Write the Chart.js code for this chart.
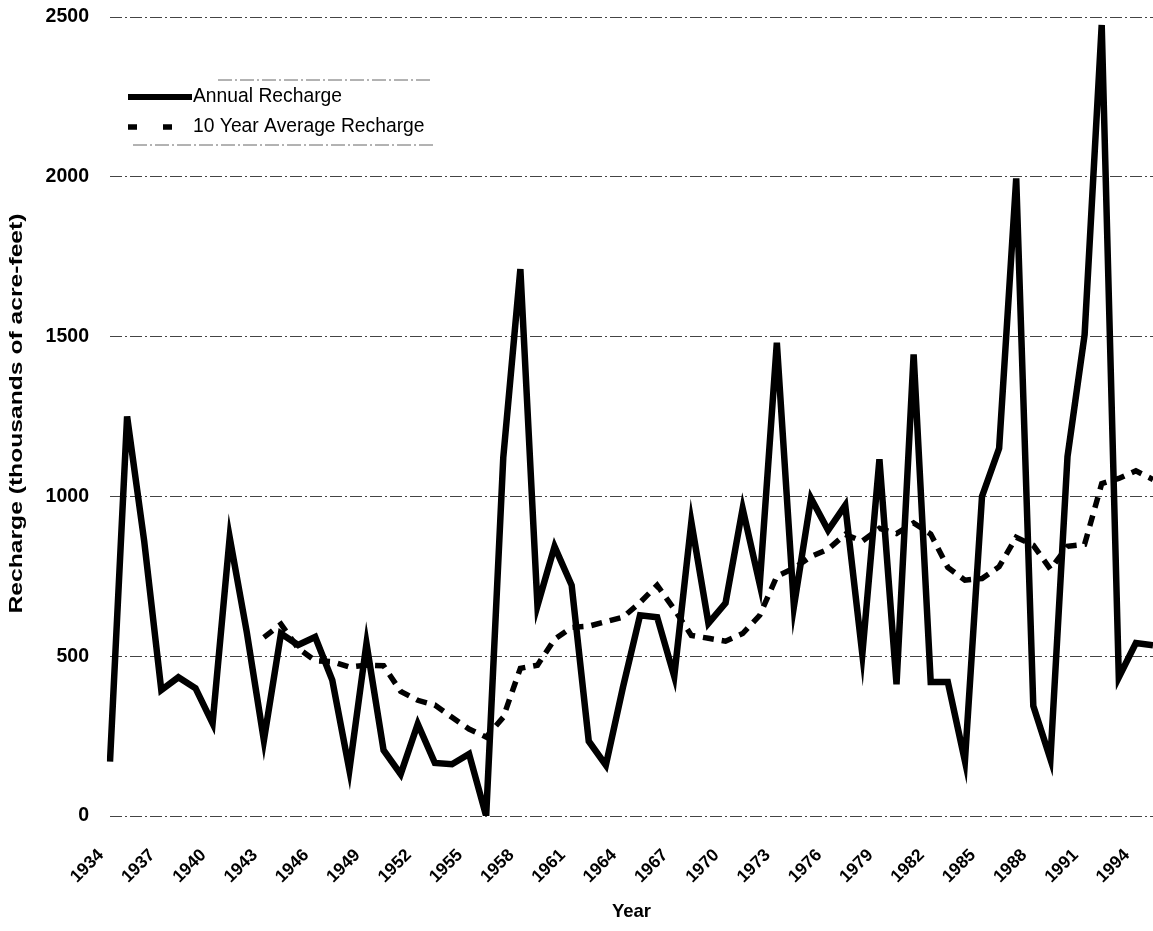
<!DOCTYPE html>
<html>
<head>
<meta charset="utf-8">
<script src="https://cdn.jsdelivr.net/npm/chart.js@4.4.1/dist/chart.umd.min.js"></script>
<style>
html,body{margin:0;padding:0;background:#ffffff;}
canvas{display:block;}
</style>
</head>
<body>
<canvas id="chart" width="1153" height="931"></canvas>
<script>
// ---- Data ----
const years = [
  '1934','1935','1936','1937','1938','1939','1940','1941','1942','1943',
  '1944','1945','1946','1947','1948','1949','1950','1951','1952','1953',
  '1954','1955','1956','1957','1958','1959','1960','1961','1962','1963',
  '1964','1965','1966','1967','1968','1969','1970','1971','1972','1973',
  '1974','1975','1976','1977','1978','1979','1980','1981','1982','1983',
  '1984','1985','1986','1987','1988','1989','1990','1991','1992','1993',
  '1994','1995'
];

const annualRecharge = [
  170, 1250, 860, 394, 434, 400, 290, 872, 575, 237,
  571, 535, 560, 425, 144, 540, 206, 131, 288, 166,
  162, 194, 0, 1121, 1711, 658, 843, 722, 234, 159,
  403, 628, 622, 437, 920, 603, 666, 962, 725, 1481,
  656, 994, 894, 972, 506, 1116, 412, 1444, 419, 419,
  172, 1000, 1150, 1995, 344, 178, 1125, 1506, 2475, 434,
  541, 534
];

const tenYearAverage = [
  null, null, null, null, null, null, null, null, null, 559,
  600, 525, 486, 483, 466, 472, 470, 390, 362, 347,
  309, 272, 247, 309, 462, 472, 553, 590, 594, 608,
  622, 668, 722, 647, 565, 556, 547, 571, 628, 750,
  775, 812, 835, 881, 860, 900, 884, 917, 882, 778,
  738, 743, 780, 872, 847, 772, 844, 850, 1040, 1056,
  1080, 1053
];

const yTickValues = [0, 500, 1000, 1500, 2000, 2500];
const xLabelStep = 3;

const seriesNames = ['Annual Recharge', '10 Year Average Recharge'];
const yAxisTitle = 'Recharge (thousands of acre-feet)';
const xAxisTitle = 'Year';

// ---- Styling ----
const FONT_FAMILY = '"Liberation Sans", Arial, Helvetica, sans-serif';

const insetLegend = {
  id: 'insetLegend',
  afterDraw(chart) {
    const ctx = chart.ctx;
    const a = chart.chartArea;
    const x0 = a.left + 18;
    const y0 = a.top + 80;
    ctx.save();
    // faint legend box edges (as in the scan)
    ctx.strokeStyle = '#666';
    ctx.lineWidth = 1;
    ctx.setLineDash([14, 3, 2, 3]);
    ctx.beginPath();
    ctx.moveTo(x0 + 90, y0 - 17); ctx.lineTo(x0 + 305, y0 - 17);
    ctx.moveTo(x0 + 5, y0 + 48); ctx.lineTo(x0 + 305, y0 + 48);
    ctx.stroke();
    chart.data.datasets.forEach((ds, i) => {
      const y = y0 + i * 30;
      ctx.strokeStyle = ds.borderColor;
      ctx.lineWidth = i === 0 ? 6 : 5.5;
      ctx.lineCap = 'butt';
      ctx.setLineDash(i === 0 ? [] : [9, 26]);
      ctx.beginPath();
      ctx.moveTo(x0, y);
      ctx.lineTo(x0 + (i === 0 ? 64 : 46), y);
      ctx.stroke();
      ctx.setLineDash([]);
      ctx.fillStyle = '#000';
      ctx.font = '19.3px ' + FONT_FAMILY;
      ctx.textBaseline = 'middle';
      ctx.textAlign = 'left';
      ctx.fillText(ds.label, x0 + 65, y);
    });
    ctx.restore();
  }
};

// y-axis title, stretched along its length like the scanned original
const yTitlePlugin = {
  id: 'yTitle',
  afterDraw(chart) {
    const ctx = chart.ctx;
    const a = chart.chartArea;
    ctx.save();
    ctx.font = 'bold 18px ' + FONT_FAMILY;
    const w = ctx.measureText(yAxisTitle).width;
    const targetLen = 400;
    ctx.translate(17, (a.top + a.bottom) / 2 - 3);
    ctx.rotate(-Math.PI / 2);
    ctx.scale(targetLen / w, 1);
    ctx.fillStyle = '#000';
    ctx.textAlign = 'center';
    ctx.textBaseline = 'middle';
    ctx.fillText(yAxisTitle, 0, 0);
    ctx.restore();
  }
};

const ctx = document.getElementById('chart').getContext('2d');
new Chart(ctx, {
  type: 'line',
  data: {
    labels: years,
    datasets: [
      {
        label: seriesNames[0],
        data: annualRecharge,
        borderColor: '#000000',
        backgroundColor: '#000000',
        borderWidth: 6.5,
        pointRadius: 0,
        tension: 0,
        borderJoinStyle: 'miter',
        fill: false
      },
      {
        label: seriesNames[1],
        data: tenYearAverage,
        borderColor: '#000000',
        backgroundColor: '#000000',
        borderWidth: 5.5,
        borderDash: [11, 8],
        pointRadius: 0,
        tension: 0,
        spanGaps: false,
        fill: false
      }
    ]
  },
  options: {
    responsive: false,
    animation: false,
    devicePixelRatio: 1,
    layout: { padding: { top: 17, right: 0, left: 0, bottom: 0 } },
    plugins: {
      legend: { display: false },
      tooltip: { enabled: false },
      title: { display: false }
    },
    scales: {
      x: {
        type: 'category',
        offset: false,
        grid: { display: false, drawTicks: false },
        border: { display: false },
        ticks: {
          autoSkip: false,
          maxRotation: 45,
          minRotation: 45,
          padding: 29,
          labelOffset: -9,
          color: '#000',
          font: { family: FONT_FAMILY, size: 17.5, weight: 'bold' },
          callback: function(value, index) {
            return index % xLabelStep === 0 ? this.getLabelForValue(value) : null;
          }
        },
        title: {
          display: true,
          text: xAxisTitle,
          color: '#000',
          font: { family: FONT_FAMILY, size: 18.5, weight: 'bold' },
          padding: { top: 0, bottom: 8 }
        },
        afterFit(scale) {
          scale.height = 115;
          scale.paddingLeft = 0;
          scale.paddingRight = 0;
        }
      },
      y: {
        min: 0,
        max: 2500,
        afterBuildTicks(scale) {
          scale.ticks = yTickValues.map(v => ({ value: v }));
        },
        grid: {
          display: true,
          drawTicks: false,
          color: '#444',
          lineWidth: 1
        },
        border: { display: false, dash: [12, 3, 2, 3] },
        ticks: {
          padding: 21,
          color: '#000',
          font: { family: FONT_FAMILY, size: 19.5, weight: 'bold' },
          callback: (value) => String(value)
        },
        title: { display: false },
        afterFit(scale) {
          scale.width = 110;
          scale.paddingTop = 0;
          scale.paddingBottom = 0;
        }
      }
    }
  },
  plugins: [insetLegend, yTitlePlugin]
});
</script>
</body>
</html>
